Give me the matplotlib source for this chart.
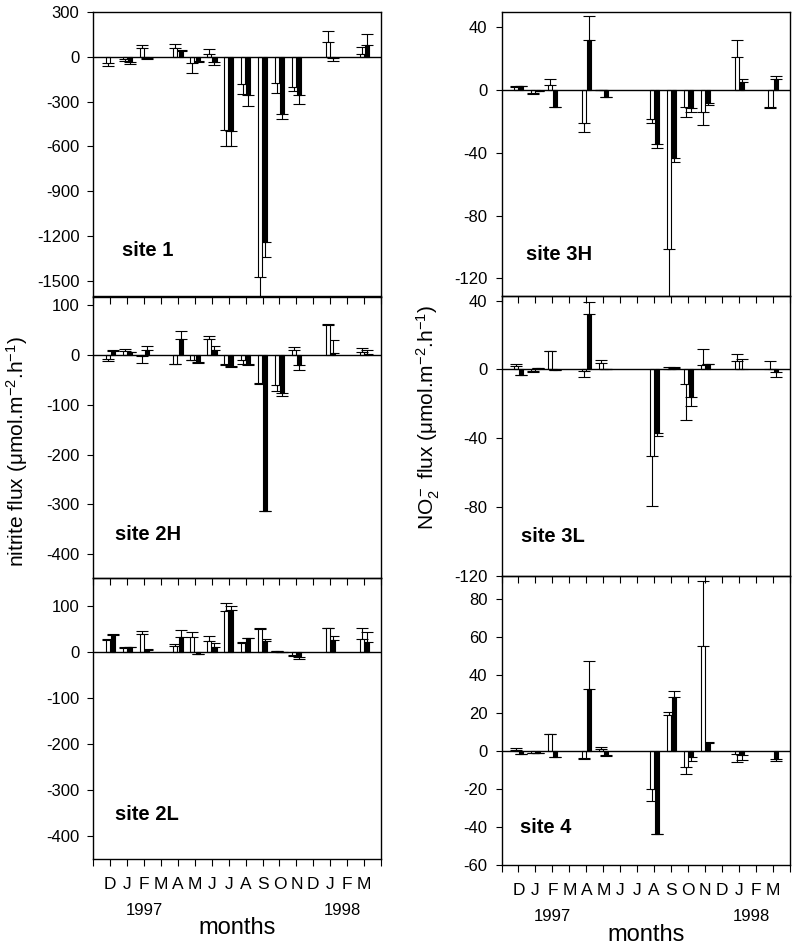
import numpy as np
import matplotlib
matplotlib.use('Agg')
import matplotlib.pyplot as plt
from matplotlib.transforms import blended_transform_factory

plt.rcParams['font.family'] = ['Liberation Sans', 'DejaVu Sans']
plt.rcParams['mathtext.fontset'] = 'custom'
plt.rcParams['mathtext.rm'] = 'Liberation Sans'
plt.rcParams['mathtext.it'] = 'Liberation Sans'
plt.rcParams['mathtext.bf'] = 'Liberation Sans:bold'
plt.rcParams['axes.unicode_minus'] = False

nan = np.nan
months = ["D", "J", "F", "M", "A", "M", "J", "J", "A", "S", "O", "N", "D", "J", "F", "M"]
year_labels = ["1997", "1998"]
year_pos = [3.0, 14.7]

# site 1
s1_white = [-40, -15, 60, nan, 60, -40, 20, -490, -180, -1477, -178, -203, nan, 100, nan, 20]
s1_white_err = [22, 10, 18, nan, 28, 67, 33, 107, 72, 180, 62, 27, nan, 76, nan, 47]
s1_black = [nan, -35, -10, nan, 38, -30, -35, -497, -258, -1243, -385, -258, nan, -5, nan, 82]
s1_black_err = [nan, 15, 8, nan, 10, 3, 23, 100, 72, 95, 34, 56, nan, 26, nan, 71]

# site 2H
s2h_white = [-8, 7, -3, nan, -18, -10, 32, -19, -10, -57, -60, 10, nan, 60, nan, 5]
s2h_white_err = [5, 5, 14, nan, 1, 1, 6, 1, 9, 1, 13, 5, nan, 1, nan, 8]
s2h_black = [7, 5, 10, nan, 32, -15, 10, -23, -19, -313, -77, -21, nan, 3, nan, 2]
s2h_black_err = [2, 1, 7, nan, 15, 2, 7, 2, 1, 1, 6, 10, nan, 26, nan, 7]

# site 2L
s2l_white = [27, 9, 40, nan, 13, 33, 23, 89, 20, 50, 1, -7, nan, 51, nan, 29]
s2l_white_err = [1, 1, 6, nan, 4, 11, 11, 18, 1, 1, 0, 1, nan, 1, nan, 24]
s2l_black = [36, 10, 4, nan, 33, -4, 11, 92, 30, 24, 0, -11, nan, 25, nan, 22]
s2l_black_err = [4, 0, 3, nan, 14, 1, 9, 8, 1, 4, 0, 5, nan, 10, nan, 22]

# site 3H
s3h_white = [1.7, -2, 3, nan, -21, 0.3, nan, nan, -18.5, -101.5, -10.6, -14, nan, 21, nan, -11]
s3h_white_err = [0.8, 0.5, 4, nan, 6, 0, nan, nan, 2.5, 35, 6.8, 8.5, nan, 11, nan, 0.5]
s3h_black = [2.5, -0.5, -11, nan, 32, -4.7, nan, nan, -34.6, -43, -11.7, -8.5, nan, 5, nan, 7]
s3h_black_err = [0.3, 0, 0, nan, 15, 0, nan, nan, 2.4, 2.6, 2.3, 1, nan, 2, nan, 2]

# site 3L
s3l_white = [2, -1.2, 10.6, nan, -0.8, 3.9, nan, nan, -50.5, 0.3, -8.7, 2.5, nan, 4.8, nan, 0.3]
s3l_white_err = [1, 0.2, 0, nan, 3.8, 1.5, nan, nan, 29, 1.2, 20.6, 9.1, nan, 3.9, nan, 4.5]
s3l_black = [-3.3, 0.8, -0.5, nan, 32.4, 0.5, nan, nan, -37, 0.8, -15.8, 3, nan, 0.5, nan, -1.5]
s3l_black_err = [0, 0.2, 0, nan, 7, 0, nan, nan, 2, 0.7, 5.4, 0, nan, 5.3, nan, 2.7]

# site 4
s4_white = [0.7, -1, 9, nan, -3.5, 1.2, nan, nan, -19.8, 19, -8.4, 55, nan, -1.7, nan, nan]
s4_white_err = [0.9, 0, 0, nan, 0.7, 0.9, nan, nan, 6.2, 1.5, 3.9, 34.3, nan, 4.3, nan, nan]
s4_black = [-1.6, -1, -3, nan, 32.7, -2.3, nan, nan, -43.8, 28.4, -3.2, 4.2, nan, -2, nan, -4.4]
s4_black_err = [0, 0, 0, nan, 14.6, 0.2, nan, nan, 0, 3.1, 2.1, 0.5, nan, 2.9, nan, 1]

fig = plt.figure(figsize=(7.96, 9.48), dpi=100)
W, H = 796.0, 948.0


def make_ax(left, right, top, bottom):
    ax = fig.add_axes([left / W, 1 - bottom / H, (right - left) / W, (bottom - top) / H])
    ax.set_facecolor('none')
    return ax


def draw(ax, white, white_err, black, black_err, ylim, yticks, label, label_xy, show_x):
    x = np.arange(1, len(months) + 1)
    for vals, errs, off, fc in [(white, white_err, -0.15, 'white'), (black, black_err, 0.16, 'black')]:
        v = np.array(vals, dtype=float)
        e = np.array(errs, dtype=float)
        ax.bar(x + off, v, 0.24, color=fc, edgecolor='black', linewidth=0.8, zorder=3)
        lower = np.where(v < 0, e, 0.0)
        upper = np.where(v < 0, 0.0, e)
        ax.errorbar(x + off, v, yerr=[lower, upper], fmt='none', ecolor='black',
                    elinewidth=0.8, capsize=4.5, capthick=0.8, zorder=2)
    ax.axhline(0, color='black', lw=1.0, zorder=4)
    ax.set_xlim(0, 17)
    ax.set_ylim(*ylim)
    ax.set_yticks(yticks)
    ax.set_yticklabels([str(t) for t in yticks])
    ax.set_xticks(np.arange(0, 18))
    if show_x:
        ax.set_xticklabels([''] + months + [''])
    else:
        ax.set_xticklabels([''] * 18)
    ax.tick_params(axis='y', direction='out', length=4, width=0.8, labelsize=12, pad=6)
    ax.tick_params(axis='x', direction='out', length=5, width=0.8, labelsize=12.5, pad=8)
    for sp in ax.spines.values():
        sp.set_linewidth(1.0)
    ax.text(label_xy[0], label_xy[1], label, transform=ax.transAxes, fontsize=14.5,
            fontweight='bold', ha='left', va='center')
    if show_x:
        tr = blended_transform_factory(ax.transData, ax.transAxes)
        for yl, yp in zip(year_labels, year_pos):
            ax.annotate(yl, xy=(yp, 0), xycoords=tr, xytext=(0, -37), textcoords='offset points',
                        ha='center', va='center', fontsize=12)
        ax.annotate('months', xy=(0.5, 0), xycoords='axes fraction', xytext=(0, -50),
                    textcoords='offset points', ha='center', va='center', fontsize=17)


L0, L1 = 93.3, 381.0
R0, R1 = 501.5, 790.0

ax1 = make_ax(L0, L1, 12, 296.5)
draw(ax1, s1_white, s1_white_err, s1_black, s1_black_err, (-1605, 300),
     [-1500, -1200, -900, -600, -300, 0, 300], 'site 1', (0.099, 0.163), False)
ax2 = make_ax(L0, L1, 296.5, 578.3)
draw(ax2, s2h_white, s2h_white_err, s2h_black, s2h_black_err, (-448, 117),
     [-400, -300, -200, -100, 0, 100], 'site 2H', (0.075, 0.154), False)
ax3 = make_ax(L0, L1, 578.3, 859)
draw(ax3, s2l_white, s2l_white_err, s2l_black, s2l_black_err, (-450, 160),
     [-400, -300, -200, -100, 0, 100], 'site 2L', (0.075, 0.158), True)

ax4 = make_ax(R0, R1, 11.7, 295.5)
draw(ax4, s3h_white, s3h_white_err, s3h_black, s3h_black_err, (-131, 50),
     [-120, -80, -40, 0, 40], 'site 3H', (0.085, 0.143), False)
ax5 = make_ax(R0, R1, 295.5, 575.7)
draw(ax5, s3l_white, s3l_white_err, s3l_black, s3l_black_err, (-120, 43),
     [-120, -80, -40, 0, 40], 'site 3L', (0.067, 0.141), False)
ax6 = make_ax(R0, R1, 575.7, 865.3)
draw(ax6, s4_white, s4_white_err, s4_black, s4_black_err, (-60, 92),
     [-60, -40, -20, 0, 20, 40, 60, 80], 'site 4', (0.064, 0.131), True)

fig.text(17 / W, 1 - 452 / H, 'nitrite flux (\u03bcmol.m$^{-2}$.h$^{-1}$)',
         rotation=90, ha='center', va='center', fontsize=15)
fig.text(428 / W, 1 - 417 / H, 'NO$_2^-$ flux (\u03bcmol.m$^{-2}$.h$^{-1}$)',
         rotation=90, ha='center', va='center', fontsize=15)

fig.savefig('out.png', dpi=100, facecolor='white')
